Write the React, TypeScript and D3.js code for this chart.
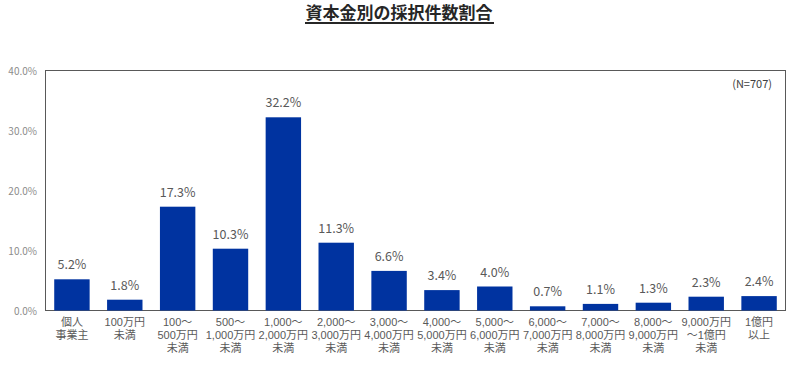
import React from "react";
import * as d3 from "d3";

const categories: string[][] = [
  ["個人", "事業主"],
  ["100万円", "未満"],
  ["100～", "500万円", "未満"],
  ["500～", "1,000万円", "未満"],
  ["1,000～", "2,000万円", "未満"],
  ["2,000～", "3,000万円", "未満"],
  ["3,000～", "4,000万円", "未満"],
  ["4,000～", "5,000万円", "未満"],
  ["5,000～", "6,000万円", "未満"],
  ["6,000～", "7,000万円", "未満"],
  ["7,000～", "8,000万円", "未満"],
  ["8,000～", "9,000万円", "未満"],
  ["9,000万円", "～1億円", "未満"],
  ["1億円", "以上"],
];
const values: number[] = [5.2, 1.8, 17.3, 10.3, 32.2, 11.3, 6.6, 3.4, 4.0, 0.7, 1.1, 1.3, 2.3, 2.4];
const yTicks: number[] = [0, 10, 20, 30, 40];
const title = "資本金別の採択件数割合";
const note = "(N=707)";

const W = 800, H = 366;
const left = 45.5, right = 785.5, top = 70.5, bottom = 310.5;
const font = "'Noto Sans CJK JP', 'Noto Sans', sans-serif";
const labelFont = "'Liberation Sans', 'Noto Sans CJK JP', sans-serif";

export default function App() {
  const x = d3.scaleBand<number>().domain(d3.range(values.length)).range([left, right]).paddingInner(0.33).paddingOuter(0.165);
  const y = d3.scaleLinear().domain([0, 40]).range([bottom, top]);
  return (
    <svg width={W} height={H} style={{ position: "absolute", left: 0, top: 0, background: "#fff" }}>
      <text x={399} y={19} textAnchor="middle" fontFamily={font} fontSize={17} fontWeight="bold" fill="#262626">{title}</text>
      <line x1={305} x2={494} y1={23} y2={23} stroke="#262626" strokeWidth={2} />
      <rect x={left} y={top} width={right - left} height={bottom - top} fill="none" stroke="#595959" strokeWidth={1} />
      {yTicks.map((t) => (
        <text key={t} x={37} y={y(t) + 4} textAnchor="end" fontFamily={font} fontSize={10} fill="#8c8c8c">
          {t.toFixed(1) + "%"}
        </text>
      ))}
      <text x={772} y={88} textAnchor="end" fontFamily={font} fontSize={11} fill="#404040">{note}</text>
      {values.map((v, i) => (
        <g key={i}>
          <rect x={x(i)} y={y(v)} width={x.bandwidth()} height={bottom - y(v)} fill="#0033a0" />
          <text x={(x(i) as number) + x.bandwidth() / 2} y={y(v) - 10} textAnchor="middle" fontFamily={font}
            fontSize={12.5} fill="#595959">{v.toFixed(1) + "%"}</text>
          {categories[i].map((line, j) => (
            <text key={j} x={(x(i) as number) + x.bandwidth() / 2} y={326 + j * 13} textAnchor="middle"
              fontFamily={labelFont} fontSize={11} fill="#595959">{line}</text>
          ))}
        </g>
      ))}
    </svg>
  );
}
